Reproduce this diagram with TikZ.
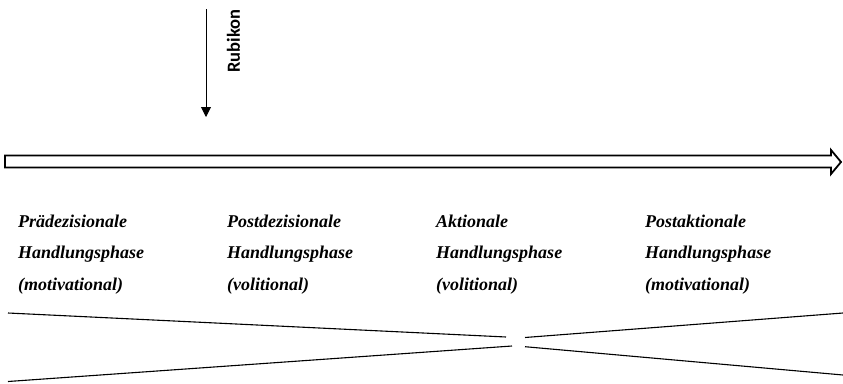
\documentclass[tikz,border=0pt]{standalone}
\usepackage{fontspec}
\setmainfont{Liberation Serif}
\newfontfamily\calibrifont{Carlito}
\usetikzlibrary{arrows.meta}

\begin{document}
\begin{tikzpicture}[x=1pt,y=-1pt,line join=miter]
\tikzset{
  phase/.style={anchor=base west,inner sep=0pt,font=\fontsize{18}{22}\selectfont\bfseries\itshape},
  timeline/.style={draw=black,line width=1.8pt,fill=white},
  wedge/.style={draw=black,line width=1.1pt}
}
\useasboundingbox (0,0) rectangle (843,383);
% Rubikon
\node[rotate=90,inner sep=0pt,font=\calibrifont\fontsize{18.5}{20}\selectfont\bfseries] (rubikon) at (233.5,41) {Rubikon};
\coordinate (rubtop) at (206,9);
\coordinate (rubtip) at (206,117);
\draw[line width=0.9pt,-{Triangle[length=10pt,width=10pt]}] (rubtop) -- (rubtip);
% phase axis
\draw[timeline] (5,155.5) -- (831,155.5) -- (831,150) -- (841,162) -- (831,174) -- (831,167.5) -- (5,167.5) -- cycle;
% phases
\foreach \x/\n/\a/\c in {18/1/Prädezisionale/(motivational),
                         227/2/Postdezisionale/(volitional),
                         436/3/Aktionale/(volitional),
                         645/4/Postaktionale/(motivational)}{
  \node[phase] (name\n) at (\x,227) {\a};
  \node[phase] (hand\n) at (\x,258.5) {Handlungsphase};
  \node[phase] (kind\n) at (\x,290) {\c};
}
% motivation / volition
\coordinate (tl) at (8,313);
\coordinate (tm) at (506,337);
\coordinate (bl) at (8,381.5);
\coordinate (bm) at (512,346);
\coordinate (tn) at (525,337.5);
\coordinate (tr) at (843,313);
\coordinate (bn) at (525,346.7);
\coordinate (br) at (843,375);
\draw[wedge] (tl) -- (tm);
\draw[wedge] (bl) -- (bm);
\draw[wedge] (tn) -- (tr);
\draw[wedge] (bn) -- (br);
\end{tikzpicture}
\end{document}
